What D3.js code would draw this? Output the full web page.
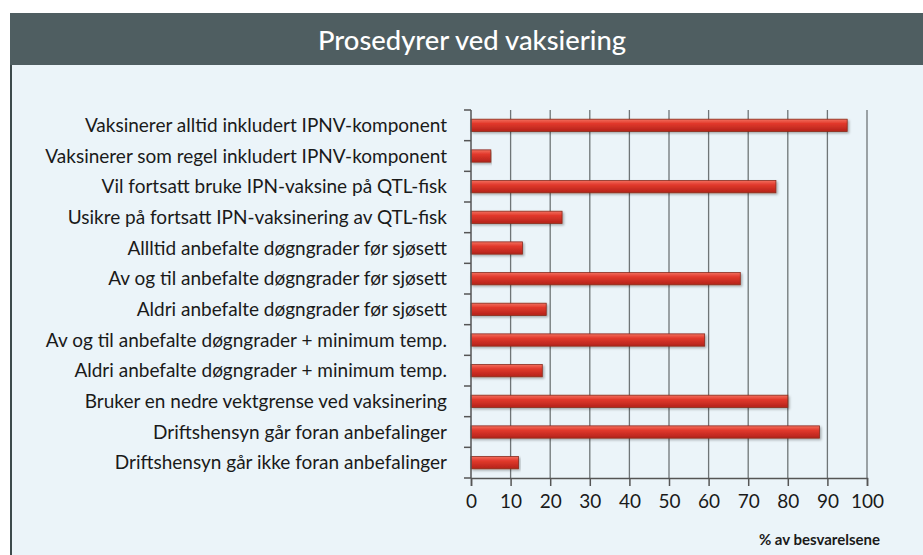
<!DOCTYPE html>
<html>
<head>
    <meta charset="UTF-8" />
    <title>Prosedyrer ved vaksiering</title>
    <style>
        body { margin: 0; background: #fff; }
        svg { display: block; }
        .lbl { font-family: Lato, "Open Sans", sans-serif; fill: #1a1a1a; }
    </style>
</head>
<body>
<script src="https://d3js.org/d3.v7.min.js"></script>
<script>
    // les donnees
    const categories = [
        "Vaksinerer alltid inkludert IPNV-komponent",
        "Vaksinerer som regel inkludert IPNV-komponent",
        "Vil fortsatt bruke IPN-vaksine på QTL-fisk",
        "Usikre på fortsatt IPN-vaksinering av QTL-fisk",
        "Allltid anbefalte døgngrader før sjøsett",
        "Av og til anbefalte døgngrader før sjøsett",
        "Aldri anbefalte døgngrader før sjøsett",
        "Av og til anbefalte døgngrader + minimum temp.",
        "Aldri anbefalte døgngrader + minimum temp.",
        "Bruker en nedre vektgrense ved vaksinering",
        "Driftshensyn går foran anbefalinger",
        "Driftshensyn går ikke foran anbefalinger"
    ];
    const values = [95, 5, 77, 23, 13, 68, 19, 59, 18, 80, 88, 12];
    const xTicks = [0, 10, 20, 30, 40, 50, 60, 70, 80, 90, 100];
    const title = "Prosedyrer ved vaksiering";
    const xTitle = "% av besvarelsene";

    const width = 923, height = 555;
    const margin = { top: 110, left: 471, right: 56, bottom: 77 };
    const frameX = 10, frameY = 13;

    const svg = d3.select("body").append("svg")
        .attr("width", width)
        .attr("height", height);

    // degrade pour les barres
    const defs = svg.append("defs");
    const grad = defs.append("linearGradient")
        .attr("id", "barGrad")
        .attr("x1", 0).attr("y1", 0).attr("x2", 0).attr("y2", 1);
    grad.append("stop").attr("offset", "0%").attr("stop-color", "#f2705e");
    grad.append("stop").attr("offset", "35%").attr("stop-color", "#e2392c");
    grad.append("stop").attr("offset", "100%").attr("stop-color", "#b3221a");
    const shadow = defs.append("filter").attr("id", "shadow")
        .attr("x", "-5%").attr("y", "-30%").attr("width", "110%").attr("height", "180%");
    shadow.append("feDropShadow")
        .attr("dx", 1.5).attr("dy", 1.5).attr("stdDeviation", 1)
        .attr("flood-color", "#000").attr("flood-opacity", 0.3);

    // fond
    svg.append("rect").attr("x", frameX).attr("y", frameY)
        .attr("width", width - frameX).attr("height", height - frameY)
        .attr("fill", "#ebf4f9");
    svg.append("line").attr("x1", frameX + 1).attr("x2", frameX + 1)
        .attr("y1", frameY).attr("y2", height)
        .attr("stroke", "#3d4a4c").attr("stroke-width", 2);

    // bandeau du titre
    svg.append("rect").attr("x", frameX).attr("y", frameY)
        .attr("width", width - frameX).attr("height", 52)
        .attr("fill", "#4f5e61");
    svg.append("text")
        .attr("x", 472).attr("y", 50)
        .attr("text-anchor", "middle")
        .attr("fill", "#fff")
        .style("font-family", "Lato, sans-serif")
        .style("font-size", "26px")
        .style("font-weight", "500")
        .attr("textLength", 308)
        .attr("lengthAdjust", "spacingAndGlyphs")
        .text(title);

    const x = d3.scaleLinear()
        .domain([0, 100])
        .range([margin.left, width - margin.right]);

    const y = d3.scaleBand()
        .domain(categories)
        .range([margin.top, height - margin.bottom])
        .paddingInner(0.6)
        .paddingOuter(0.3);

    const plotBottom = height - margin.bottom;

    // grille verticale
    svg.append("g")
        .selectAll("line")
        .data(xTicks.slice(1))
        .join("line")
        .attr("x1", d => x(d)).attr("x2", d => x(d))
        .attr("y1", margin.top).attr("y2", plotBottom)
        .attr("stroke", "#6f7577")
        .attr("stroke-width", 1.3);

    // barres
    svg.append("g")
        .selectAll("rect")
        .data(values)
        .join("rect")
        .attr("x", x(0))
        .attr("y", (d, i) => y(categories[i]))
        .attr("width", d => x(d) - x(0))
        .attr("height", y.bandwidth())
        .attr("fill", "url(#barGrad)")
        .attr("stroke", "#8a2a1c")
        .attr("stroke-width", 0.8)
        .attr("filter", "url(#shadow)");

    // axe x
    const xAxis = svg.append("g")
        .attr("transform", `translate(0,${plotBottom})`)
        .call(d3.axisBottom(x).tickValues(xTicks).tickSize(8).tickPadding(9));
    xAxis.select(".domain").attr("stroke", "#555").attr("stroke-width", 1.5);
    xAxis.selectAll(".tick line").attr("stroke", "#555").attr("stroke-width", 1.5);
    xAxis.selectAll("text")
        .attr("class", "lbl")
        .style("font-size", "19px")
        .attr("fill", "#1a1a1a");

    // axe y : traits aux limites des categories
    const step = y.step();
    const bounds = d3.range(categories.length + 1).map(i => margin.top + i * step);
    svg.append("g")
        .selectAll("line")
        .data(bounds)
        .join("line")
        .attr("x1", x(0) - 7).attr("x2", x(0))
        .attr("y1", d => d).attr("y2", d => d)
        .attr("stroke", "#555").attr("stroke-width", 1.5);
    svg.append("line")
        .attr("x1", x(0)).attr("x2", x(0))
        .attr("y1", margin.top).attr("y2", plotBottom)
        .attr("stroke", "#555").attr("stroke-width", 1.5);

    // libelles des categories
    svg.append("g")
        .selectAll("text")
        .data(categories)
        .join("text")
        .attr("class", "lbl")
        .attr("x", 447)
        .attr("y", d => y(d) + y.bandwidth() / 2)
        .attr("dy", "0.35em")
        .attr("text-anchor", "end")
        .style("font-size", "19px")
        .text(d => d);

    // titre de l'axe x
    svg.append("text")
        .attr("class", "lbl")
        .attr("x", 880).attr("y", 545)
        .attr("text-anchor", "end")
        .style("font-size", "15px")
        .style("font-weight", "bold")
        .text(xTitle);
</script>
</body>
</html>
